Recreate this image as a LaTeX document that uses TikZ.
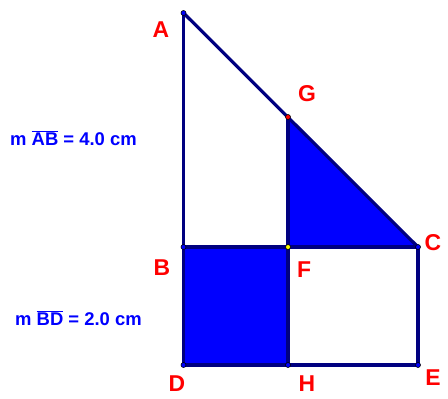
\documentclass[tikz,border=0pt]{standalone}
\usepackage{fontspec}
\setmainfont{Liberation Sans}
\usetikzlibrary{positioning}
\definecolor{gsNavy} {RGB}{  0,  0,128}
\definecolor{gsBlue} {RGB}{  0,  0,255}
\definecolor{gsRed}  {RGB}{255,  0,  0}
\definecolor{gsYel}  {RGB}{255,255,  0}

\begin{document}
\begin{tikzpicture}[x=1bp,y=-1bp,
  seg/.style={draw=gsNavy,line width=3.2bp,line cap=round},
  shade/.style={fill=gsBlue},
  lbl/.style={text=gsRed,font=\fontsize{23}{23}\selectfont\bfseries,inner sep=0pt},
  meas/.style={text=gsBlue,font=\fontsize{18.5}{18.5}\selectfont\bfseries,inner sep=0pt,anchor=west},
  pt/.style={circle,draw=black,line width=0.6bp,fill=#1,inner sep=0pt,minimum size=5bp}
]
\useasboundingbox (0,0) rectangle (448,398);
% points of the figure
\coordinate (A) at (183.5,13);
\coordinate (B) at (183.5,247);
\coordinate (C) at (418,247);
\coordinate (D) at (183.5,365);
\coordinate (E) at (418,365);
\coordinate (F) at (288,247);
\coordinate (G) at (288,117);
\coordinate (H) at (288,365);
% shaded pieces
\path[shade] (B) -- (F) -- (H) -- (D) -- cycle;
\path[shade] (G) -- (C) -- (F) -- cycle;
% segments
\draw[seg] (A) -- (C);
\draw[seg] (A) -- (D) -- (E) -- (C) -- (B);
\draw[seg] (G) -- (H);
% point markers
\foreach \p in {A,B,C,D,E,H} \node[pt=gsBlue] at (\p) {};
\node[pt=gsRed] at (G) {};
\node[pt=gsYel] at (F) {};
% letters
\node[lbl] (lA) at (161,30) {A};
\node[lbl] (lG) at (307,94) {G};
\node[lbl] (lC) at (433,243) {C};
\node[lbl] (lB) at (162,268) {B};
\node[lbl] (lF) at (304,270) {F};
\node[lbl] (lD) at (177,384) {D};
\node[lbl] (lH) at (307,384) {H};
\node[lbl] (lE) at (433,378) {E};
% measurements
\node[meas] (mAB) at (10,138) {m $\overline{\mbox{AB}}$ = 4.0 cm};
\node[meas] (mBD) at (15,318) {m $\overline{\mbox{BD}}$ = 2.0 cm};
\end{tikzpicture}
\end{document}
